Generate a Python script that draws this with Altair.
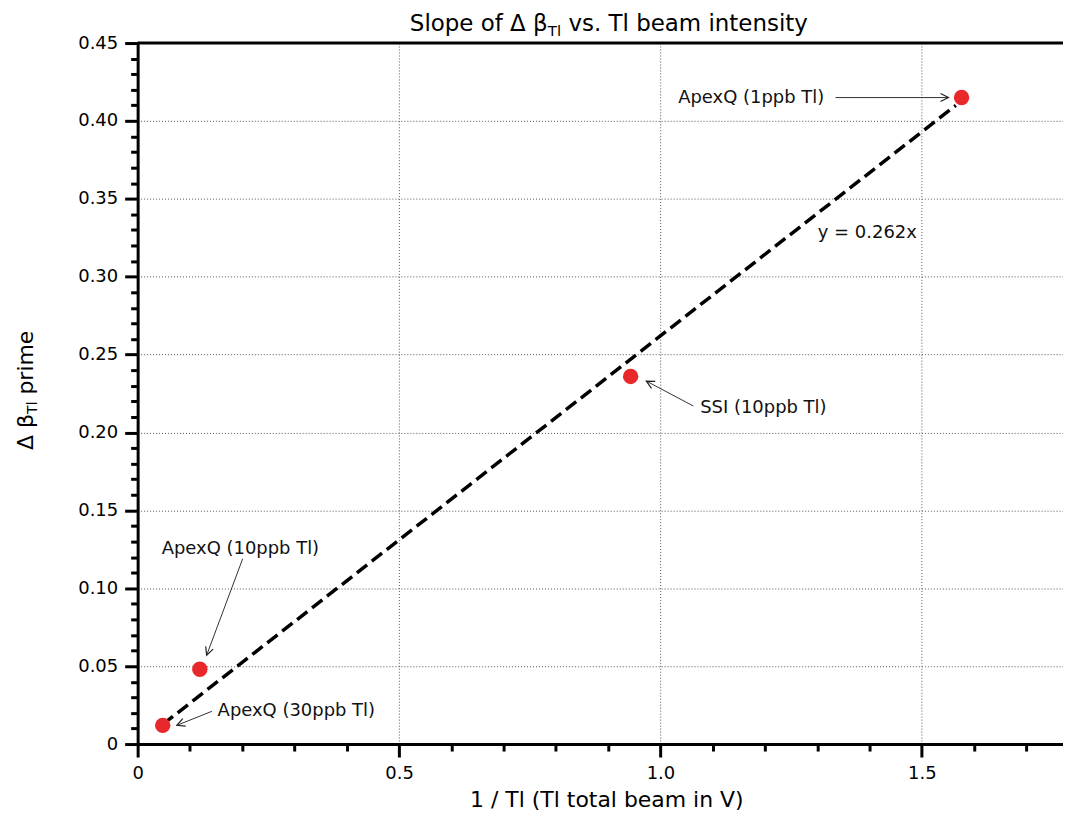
import math
import altair as alt
import pandas as pd

# ---- data ----
point_x = [0.048, 0.119, 0.943, 1.576]
point_y = [0.012, 0.048, 0.236, 0.415]
sample_labels = ["ApexQ (30ppb Tl)", "ApexQ (10ppb Tl)", "SSI (10ppb Tl)", "ApexQ (1ppb Tl)"]
label_x = [0.153, 0.046, 1.076, 1.034]
label_y = [0.021, 0.125, 0.216, 0.415]
arrow_tail_x = [0.142, 0.201, 1.063, 1.335]
arrow_tail_y = [0.021, 0.119, 0.217, 0.415]
arrow_head_x = [0.075, 0.132, 0.973, 1.551]
arrow_head_y = [0.012, 0.057, 0.233, 0.415]
fit_x = [0.048, 1.565]
fit_y = [0.0126, 0.410]
fit_label = ["y = 0.262x"]
fit_label_x = [1.301]
fit_label_y = [0.328]
x_ticks = [round(i * 0.1, 1) for i in range(18)]
y_ticks = [round(i * 0.01, 2) for i in range(46)]

X_MAX = 1.77
Y_MAX = 0.45
W = 928
H = 703
FONT = "DejaVu Sans"

x_major = "round(datum.value*10) % 5 === 0"
y_major = "round(datum.value*100) % 5 === 0"

common_axis = dict(
    labelFont=FONT, labelFontSize=18, labelColor="black",
    tickWidth=3, tickColor="black", domainWidth=3, domainColor="black",
    grid=True, gridDash=[1, 2], gridColor="#555", gridWidth=1,
    labelOverlap=False, labelFlush=False, labelBound=False,
)

x_axis = alt.Axis(
    values=x_ticks,
    title="1 / Tl (Tl total beam in V)",
    titleFont=FONT, titleFontSize=22, titleFontWeight="normal", titleColor="black",
    titleBaseline="alphabetic", titleAlign="center", titleY=63, titleX=470,
    labelPadding=8,
    labelExpr=f"{x_major} ? (datum.value === 0 ? '0' : format(datum.value, '.1f')) : ''",
    tickSize={"condition": {"test": x_major, "value": 13}, "value": 7},
    gridOpacity={"condition": {"test": x_major, "value": 1}, "value": 0},
    **common_axis,
)
y_axis = alt.Axis(
    values=y_ticks,
    title="",
    labelPadding=7,
    labelExpr=f"{y_major} ? (datum.value === 0 ? '0' : format(datum.value, '.2f')) : ''",
    tickSize={"condition": {"test": y_major, "value": 13}, "value": 7},
    gridOpacity={"condition": {"test": y_major, "value": 1}, "value": 0},
    **common_axis,
)
x_scale = alt.Scale(domain=[0, X_MAX], nice=False, zero=False)
y_scale = alt.Scale(domain=[0, Y_MAX], nice=False, zero=False)


def X(f):
    return alt.X(f, type="quantitative", scale=x_scale, axis=x_axis)


def Y(f):
    return alt.Y(f, type="quantitative", scale=y_scale, axis=y_axis)


pts = pd.DataFrame({"x": point_x, "y": point_y})
labels = pd.DataFrame({"x": label_x, "y": label_y, "t": sample_labels})
px_x = W / X_MAX
px_y = H / Y_MAX
angles = []
for tx, ty, hx, hy in zip(arrow_tail_x, arrow_tail_y, arrow_head_x, arrow_head_y):
    dx = (hx - tx) * px_x
    dy = -(hy - ty) * px_y
    angles.append(math.degrees(math.atan2(dy, dx)) % 360)
arrows = pd.DataFrame({"x": arrow_tail_x, "y": arrow_tail_y,
                       "x2": arrow_head_x, "y2": arrow_head_y, "ang": angles})
fit = pd.DataFrame({"x": fit_x, "y": fit_y})
fitlab = pd.DataFrame({"x": fit_label_x, "y": fit_label_y, "t": fit_label})
one = pd.DataFrame({"k": [0]})

fit_line = alt.Chart(fit).mark_line(color="black", strokeWidth=3.5, strokeDash=[13, 6]).encode(
    x=X("x"), y=Y("y"))
arrow_lines = alt.Chart(arrows).mark_rule(color="#333", strokeWidth=1).encode(
    x=X("x"), y=Y("y"), x2="x2:Q", y2="y2:Q")
arrow_heads = alt.Chart(arrows).mark_point(
    shape="M -1 -0.5 L 0 0 L -1 0.5", filled=False, size=256, strokeWidth=1.2,
    color="#222", opacity=1).encode(
    x=X("x2"), y=Y("y2"), angle=alt.Angle("ang:Q", scale=None))
points = alt.Chart(pts).mark_circle(size=240, color="#E8282B", opacity=1).encode(
    x=X("x"), y=Y("y"))
label_text = alt.Chart(labels).mark_text(
    font=FONT, fontSize=18, color="#111", align="left", baseline="middle").encode(
    x=X("x"), y=Y("y"), text="t:N")
fit_text = alt.Chart(fitlab).mark_text(
    font=FONT, fontSize=18, color="#111", align="left", baseline="middle").encode(
    x=X("x"), y=Y("y"), text="t:N")

top_border = alt.Chart(one).mark_rule(color="black", strokeWidth=3).encode(
    x=alt.value(0), x2=alt.value(W), y=alt.value(0))


def txt(s, x, y, size, angle=0):
    kw = dict(text=s, font=FONT, fontSize=size, color="black",
              align="left", baseline="alphabetic")
    if angle:
        kw["angle"] = angle
    return alt.Chart(one).mark_text(**kw).encode(x=alt.value(x), y=alt.value(y))


title_parts = [
    txt("Slope of Δ β", 273, -12, 23),
    txt("Tl", 411.3, -7, 15),
    txt("vs. Tl beam intensity", 432, -12, 23),
]
ytitle_parts = [
    txt("Δ β", -105, 408, 22, 270),
    txt("Tl", -101, 371.9, 14, 270),
    txt("prime", -105, 352.5, 22, 270),
]

chart = alt.layer(
    fit_line, arrow_lines, arrow_heads, points, label_text, fit_text, top_border,
    *title_parts, *ytitle_parts,
).properties(
    width=W, height=H,
    autosize=alt.AutoSizeParams(type="none"),
    padding={"left": 130, "top": 34, "right": 0, "bottom": 66},
).configure_view(stroke="transparent")

chart.save("out.html", embed_options={"renderer": "svg", "actions": False})
